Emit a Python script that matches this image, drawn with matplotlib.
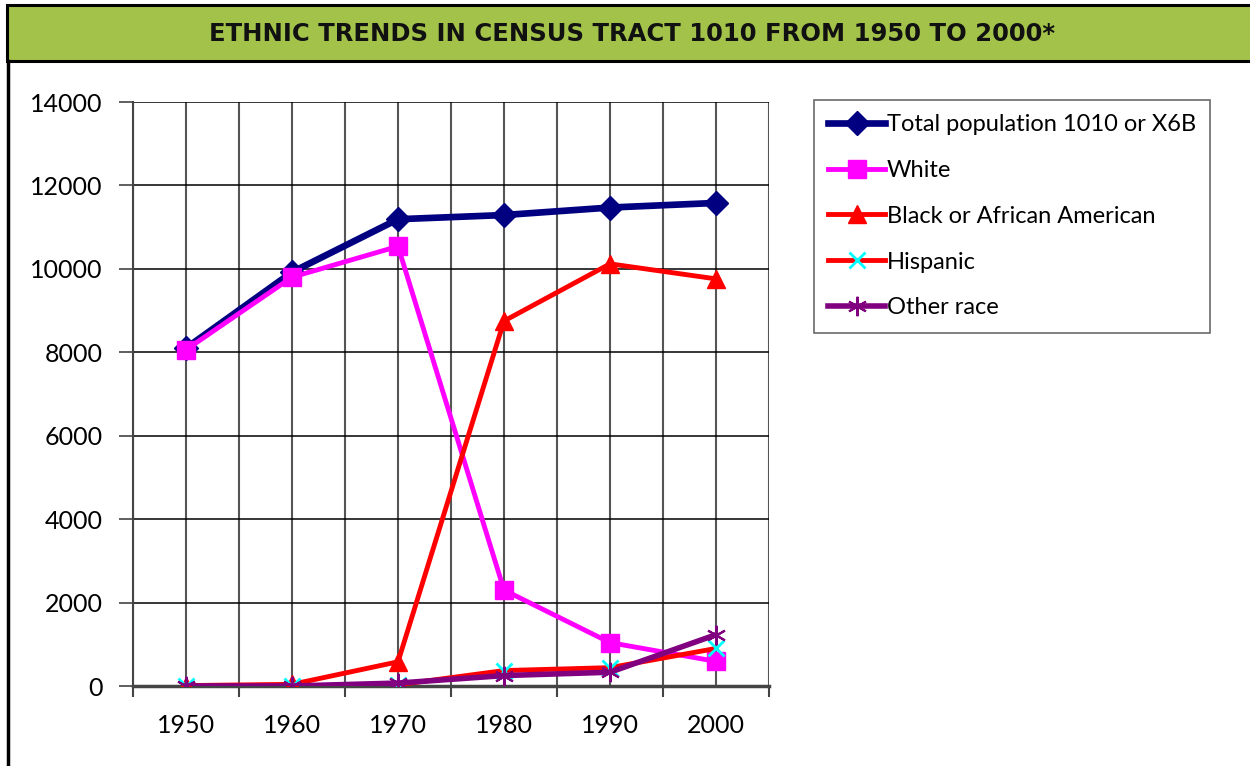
import matplotlib
matplotlib.use("Agg")
import matplotlib.pyplot as plt
from matplotlib.patches import Rectangle
from matplotlib.lines import Line2D

years = ["1950", "1960", "1970", "1980", "1990", "2000"]
total = [8100, 9920, 11190, 11290, 11470, 11580]
white = [8060, 9800, 10540, 2300, 1040, 590]
black = [10, 40, 580, 8750, 10120, 9760]
hispanic = [0, 0, 30, 370, 440, 900]
other = [0, 0, 70, 250, 330, 1230]
yticks = [0, 2000, 4000, 6000, 8000, 10000, 12000, 14000]
title = "ETHNIC TRENDS IN CENSUS TRACT 1010 FROM 1950 TO 2000*"

W, H = 1250, 766
fig = plt.figure(figsize=(W / 100, H / 100), dpi=100)
fam = ["Lato", "DejaVu Sans"]

# title band
fig.patches.append(Rectangle((7 / W, 1 - 61 / H), 1 - 7 / W + 0.01, 56 / H,
                             transform=fig.transFigure, facecolor="#A2C24A",
                             edgecolor="black", linewidth=2.2, zorder=0))
fig.lines.append(Line2D([8 / W, 8 / W], [0, 1 - 61 / H], transform=fig.transFigure,
                        color="black", linewidth=2.5))
fig.text(632 / W, 1 - 34 / H, title, ha="center", va="center", fontsize=17.5,
         fontweight="bold", family=["Liberation Sans Narrow", "DejaVu Sans"], color="#111111")

ax = fig.add_axes([133 / W, 1 - 686 / H, (769 - 133) / W, (686 - 102) / H])
x = list(range(len(years)))

ax.plot(x, total, color="#000080", lw=4.8, marker="D", ms=12, label="Total population 1010 or X6B", zorder=3)
ax.plot(x, white, color="#FF00FF", lw=3.5, marker="s", ms=12.5, label="White", zorder=4)
ax.plot(x, black, color="#FF0000", lw=3.5, marker="^", ms=12.5, label="Black or African American", zorder=5)
ax.plot(x, hispanic, color="#FF0000", lw=3.5, marker="x", ms=11, mec="#00FFFF", mew=2,
        label="Hispanic", zorder=6)
ax.plot(x, other, color="#800080", lw=4, marker=(6, 2, 0), ms=14, mec="#800080", mew=1.5,
        label="Other race", zorder=7)

ax.set_xlim(-0.5, len(years) - 0.5)
ax.set_ylim(0, 14000)
ax.set_yticks(yticks)
ax.set_yticklabels([str(v) for v in yticks], family=fam, fontsize=18)
ax.set_xticks(x)
ax.set_xticklabels(years, family=fam, fontsize=18)
ax.set_xticks([i - 0.5 for i in range(len(years) + 1)], minor=True)
ax.tick_params(axis="x", which="major", length=0, pad=20)
ax.tick_params(axis="x", which="minor", length=8, color="#444444", width=1.5)
ax.tick_params(axis="y", length=10, color="#444444", width=1.2, pad=12)
ax.grid(True, axis="y", color="black", lw=1.1)
ax.grid(True, axis="x", which="major", color="#555555", lw=1.5)
ax.grid(True, axis="x", which="minor", color="#555555", lw=1.5)
for s in ["top", "right"]:
    ax.spines[s].set_visible(False)
ax.spines["left"].set_color("#444444")
ax.spines["left"].set_linewidth(1.5)
ax.spines["bottom"].set_color("#444444")
ax.spines["bottom"].set_linewidth(2.5)
ax.set_axisbelow(True)

leg = fig.legend(loc="upper left", bbox_to_anchor=(814 / W, 1 - 100 / H),
                 prop={"family": fam, "size": 17}, frameon=True, fancybox=False,
                 edgecolor="#444444", handlelength=2.4, handletextpad=0.08,
                 labelspacing=1.05, borderpad=0.6, borderaxespad=0)
leg.get_frame().set_linewidth(1.2)

fig.savefig("out.png", dpi=100)
